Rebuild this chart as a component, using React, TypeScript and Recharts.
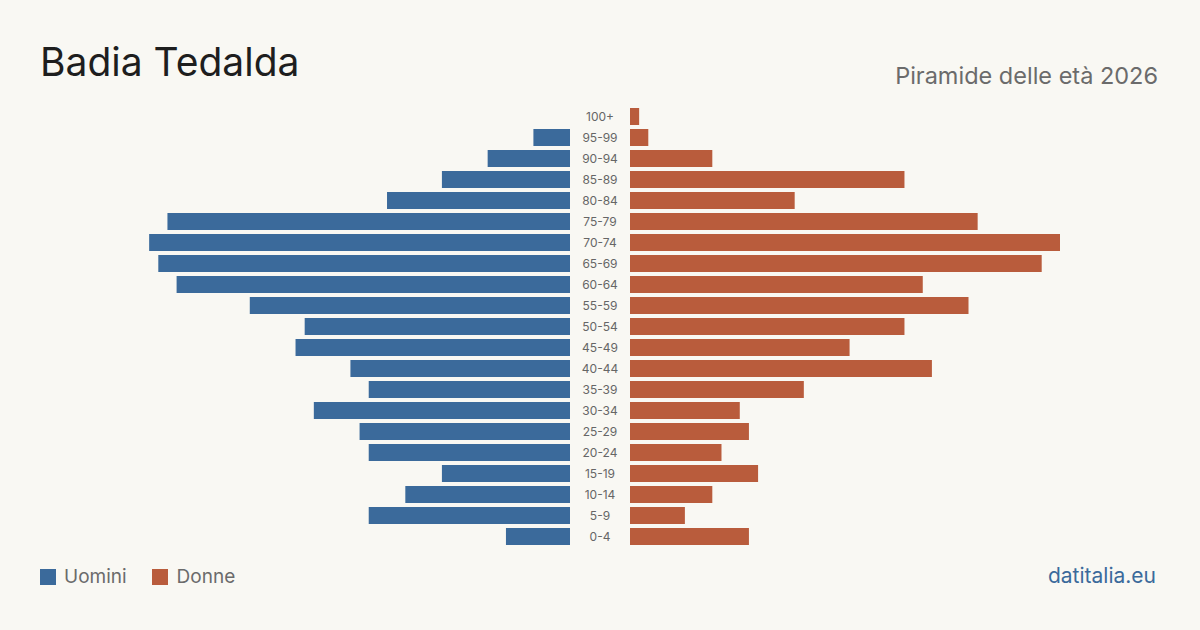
import { BarChart, Bar, XAxis, YAxis } from 'recharts';

// Fasce d'età dall'alto (più anziani) verso il basso
const ageGroups = [
  '100+', '95-99', '90-94', '85-89', '80-84', '75-79', '70-74', '65-69', '60-64', '55-59',
  '50-54', '45-49', '40-44', '35-39', '30-34', '25-29', '20-24', '15-19', '10-14', '5-9', '0-4',
];
const uomini = [0, 4, 9, 14, 20, 44, 46, 45, 43, 35, 29, 30, 24, 22, 28, 23, 22, 14, 18, 22, 7];
const donne = [1, 2, 9, 30, 18, 38, 47, 45, 32, 37, 30, 24, 33, 19, 12, 13, 10, 14, 9, 6, 13];

const BLUE = '#3b6a9b';
const ORANGE = '#b95c3c';
const BG = '#f9f8f3';
const FONT = 'Inter, "Noto Sans", sans-serif';

const data = ageGroups.map((age, i) => ({ age, uomini: uomini[i], donne: donne[i] }));
const maxValue = Math.max(...uomini, ...donne);

const SIDE_W = 430;
const LABEL_W = 60;
const PLOT_H = 441;
const TOP = 106;
const CENTER_LEFT = 140;

const AgeTick = (props: any) => {
  const { y, payload } = props;
  return (
    <text x={LABEL_W / 2} y={y} dy={4} textAnchor="middle" fontSize={12} fill="#666" fontFamily={FONT}>
      {payload.value}
    </text>
  );
};

export default function App() {
  return (
    <div
      style={{
        position: 'absolute',
        left: 0,
        top: 0,
        width: 1200,
        height: 630,
        background: BG,
        fontFamily: FONT,
        overflow: 'hidden',
      }}
    >
      <div style={{ position: 'absolute', left: 40, top: 42, fontSize: 39, color: '#1e1e1e', lineHeight: 1 }}>
        Badia Tedalda
      </div>
      <div style={{ position: 'absolute', right: 42, top: 64, fontSize: 23.5, color: '#6b6b6b', lineHeight: 1 }}>
        Piramide delle età 2026
      </div>

      {/* Uomini: barre che crescono verso sinistra */}
      <div style={{ position: 'absolute', left: CENTER_LEFT, top: TOP }}>
        <BarChart
          width={SIDE_W}
          height={PLOT_H}
          data={data}
          layout="vertical"
          margin={{ top: 0, right: 0, bottom: 0, left: 0 }}
        >
          <XAxis type="number" domain={[0, maxValue]} reversed hide />
          <YAxis type="category" dataKey="age" hide />
          <Bar dataKey="uomini" fill={BLUE} barSize={17} isAnimationActive={false} />
        </BarChart>
      </div>

      {/* Donne: etichette d'età al centro e barre verso destra */}
      <div style={{ position: 'absolute', left: CENTER_LEFT + SIDE_W, top: TOP }}>
        <BarChart
          width={LABEL_W + SIDE_W}
          height={PLOT_H}
          data={data}
          layout="vertical"
          margin={{ top: 0, right: 0, bottom: 0, left: 0 }}
        >
          <XAxis type="number" domain={[0, maxValue]} hide />
          <YAxis
            type="category"
            dataKey="age"
            width={LABEL_W}
            axisLine={false}
            tickLine={false}
            interval={0}
            tick={<AgeTick />}
          />
          <Bar dataKey="donne" fill={ORANGE} barSize={17} isAnimationActive={false} />
        </BarChart>
      </div>

      <div
        style={{
          position: 'absolute',
          left: 40,
          top: 565,
          display: 'flex',
          alignItems: 'center',
          fontSize: 19,
          color: '#6b6b6b',
        }}
      >
        <span style={{ width: 16, height: 16, background: BLUE, display: 'inline-block', marginRight: 8 }} />
        <span style={{ marginRight: 25 }}>Uomini</span>
        <span style={{ width: 16, height: 16, background: ORANGE, display: 'inline-block', marginRight: 9 }} />
        <span>Donne</span>
      </div>
      <div style={{ position: 'absolute', right: 44, top: 563, fontSize: 21, color: BLUE }}>datitalia.eu</div>
    </div>
  );
}
